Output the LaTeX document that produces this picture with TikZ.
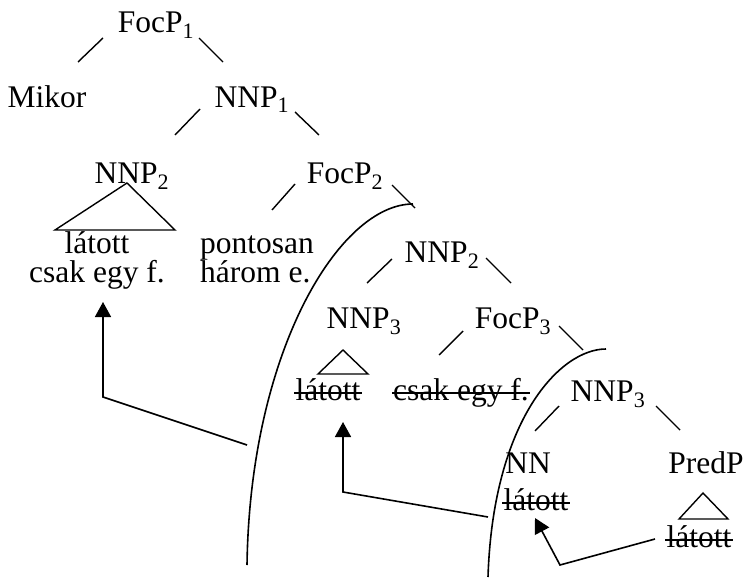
\documentclass[tikz,border=0pt]{standalone}
\usepackage{fontspec}
\setmainfont{Liberation Serif}
\usepackage{tikz}
\usetikzlibrary{arrows.meta}

\begin{document}
\begin{tikzpicture}[
  x=1pt, y=-1pt,
  cat/.style={inner sep=0pt, anchor=base, align=center,
    font=\fontsize{31.5}{29}\selectfont},
  branch/.style={line width=1.4pt},
  roof/.style={line width=1.4pt},
  strike/.style={line width=1.5pt},
  bound/.style={line width=1.6pt},
  mv/.style={-{Triangle[length=15pt,width=16pt]}, line width=1.6pt}
]
\useasboundingbox (0,0) rectangle (746,583);

% Upper part of the tree (two-line nodes sit on their last line)
\node[cat] (focpi) at (156,33) {FocP\textsubscript{1}};
\node[cat] (mikor) at (47,107) {Mikor};
\node[cat] (nnpi) at (252,107) {NNP\textsubscript{1}};
\node[cat] (nnpii) at (132,183) {NNP\textsubscript{2}};
\node[cat] (focpii) at (345,183) {FocP\textsubscript{2}};
\node[cat] (latcsak) at (97,282) {látott\\csak egy f.};
\node[cat, align=left, anchor=base west] (ponthar) at (200,282) {pontosan\\három e.};

% Lower part, with the deleted copies
\node[cat] (nnpiib) at (442,262) {NNP\textsubscript{2}};
\node[cat] (nnpiii) at (364,328) {NNP\textsubscript{3}};
\node[cat] (focpiii) at (513,328) {FocP\textsubscript{3}};
\node[cat] (latb) at (328,400) {látott};
\node[cat] (csakb) at (461,400) {csak egy f.};
\node[cat] (nnpiiib) at (608,401) {NNP\textsubscript{3}};
\node[cat] (nn) at (528,473) {NN};
\node[cat] (predp) at (706,473) {PredP};
\node[cat] (latc) at (536,510) {látott};
\node[cat] (latd) at (699,547) {látott};

% Strike-through on the deleted copies
\foreach \n in {latb,csakb,latc,latd}
  \draw[strike] ([shift={(-1,-7)}]\n.base west) -- ([shift={(1,-7)}]\n.base east);

% Branches
\draw[branch] ([shift={(-53,5)}]focpi.base) -- ([shift={(31,-45)}]mikor.base);
\draw[branch] ([shift={(43,5)}]focpi.base) -- ([shift={(-29,-45)}]nnpi.base);
\draw[branch] ([shift={(-52,2)}]nnpi.base) -- ([shift={(43,-48)}]nnpii.base);
\draw[branch] ([shift={(43,5)}]nnpi.base) -- ([shift={(-26,-48)}]focpii.base);
\draw[branch] ([shift={(-50,1)}]focpii.base) -- ([shift={(72,-72)}]ponthar.base west);
\draw[branch] ([shift={(47,2)}]focpii.base) -- ([shift={(-27,-54)}]nnpiib.base);
\draw[branch] ([shift={(-50,-3)}]nnpiib.base) -- ([shift={(3,-45)}]nnpiii.base);
\draw[branch] ([shift={(44,-4)}]nnpiib.base) -- ([shift={(-2,-45)}]focpiii.base);
\draw[branch] ([shift={(-50,3)}]focpiii.base) -- ([shift={(-22,-45)}]csakb.base);
\draw[branch] ([shift={(46,-2)}]focpiii.base) -- ([shift={(-25,-51)}]nnpiiib.base);
\draw[branch] ([shift={(-49,5)}]nnpiiib.base) -- ([shift={(7,-42)}]nn.base);
\draw[branch] ([shift={(48,5)}]nnpiiib.base) -- ([shift={(-26,-43)}]predp.base);

% Triangles
\draw[roof] ([shift={(-5,0)}]nnpii.base) -- ++(-72,47) -- ++(120,0) -- cycle;
\draw[roof] ([shift={(-21,22)}]nnpiii.base) -- ++(-25,24) -- ++(50,0) -- cycle;
\draw[roof] ([shift={(-3,20)}]predp.base) -- ++(-24,26) -- ++(49,0) -- cycle;

% Phase boundaries
\draw[bound] (413,204) .. controls (340,204) and (250,350) .. (247,565);
\draw[bound] (606,349) .. controls (560,349) and (493,420) .. (488,577);

% Movement arrows
\coordinate (tailA) at (247,445);
\coordinate (bendA) at (103,397);
\draw[mv] (tailA) -- (bendA) -- ([shift={(6,20)}]latcsak.base);
\coordinate (tailB) at (488,517);
\coordinate (bendB) at (343,492);
\draw[mv] (tailB) -- (bendB) -- ([shift={(15,22)}]latb.base);
\coordinate (bendC) at (560,565);
\draw[mv] ([shift={(-44,-8)}]latd.base) -- (bendC) -- ([shift={(-1,8)}]latc.base);

\end{tikzpicture}
\end{document}
